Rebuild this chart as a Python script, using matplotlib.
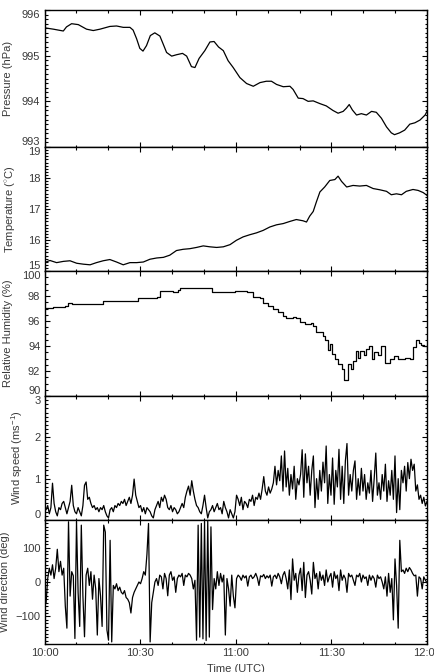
import numpy as np
import matplotlib
matplotlib.use('Agg')
import matplotlib.pyplot as plt
from matplotlib.ticker import MultipleLocator

plt.rcParams['font.family'] = ['Liberation Sans', 'DejaVu Sans']
plt.rcParams['mathtext.fontset'] = 'custom'
plt.rcParams['mathtext.rm'] = 'Liberation Sans'

# minutes after 10:00 UTC
time_ticks = [0, 30, 60, 90, 120]
time_labels = ['10:00', '10:30', '11:00', '11:30', '12:00']

# Pressure (hPa)
p_time = [0, 2.8, 5.9, 6.9, 8.5, 10.6, 13.2, 15.3, 17.4, 20.5,
          22.6, 24.7, 26.8, 27.8, 28.9, 29.9, 30.9, 32.0, 33.2, 34.6,
          36.2, 37.2, 38.3, 39.9, 41.4, 43.3, 44.6, 46.1, 47.2, 48.5,
          50.3, 51.9, 53.2, 54.6, 56.1, 57.6, 59.2, 61.3, 63.4, 65.5,
          67.6, 69.6, 71.2, 72.8, 74.9, 77.0, 78.0, 79.6, 81.1, 82.7,
          84.3, 86.4, 88.4, 90.5, 92.1, 93.7, 94.7, 95.6, 96.6, 97.9,
          99.4, 101.0, 102.6, 104.1, 105.7, 107.3, 108.8, 109.8, 111.4, 113.0,
          114.6, 116.2, 117.8, 119.4, 120]
pressure = [995.61, 995.58, 995.54, 995.63, 995.70, 995.68, 995.58, 995.55, 995.58, 995.64,
            995.65, 995.62, 995.62, 995.56, 995.37, 995.16, 995.10, 995.22, 995.44, 995.50,
            995.43, 995.26, 995.07, 994.99, 995.02, 995.05, 994.99, 994.76, 994.74, 994.94,
            995.11, 995.30, 995.31, 995.19, 995.11, 994.89, 994.74, 994.52, 994.39, 994.33,
            994.41, 994.44, 994.44, 994.37, 994.32, 994.33, 994.26, 994.07, 994.06, 994.00,
            994.01, 993.95, 993.90, 993.80, 993.74, 993.78, 993.85, 993.93, 993.81, 993.70,
            993.73, 993.70, 993.78, 993.76, 993.63, 993.44, 993.31, 993.27, 993.31, 993.37,
            993.50, 993.53, 993.59, 993.70, 993.78]

# Temperature (C)
t_time = [0, 1.7, 3.8, 5.9, 8.0, 10.1, 12.2, 14.3, 16.3, 18.4,
          20.5, 22.6, 24.7, 26.8, 28.9, 31.0, 33.1, 35.2, 37.3, 39.3,
          41.4, 43.5, 45.6, 47.7, 49.8, 51.9, 54.0, 56.1, 58.2, 60.2,
          62.3, 64.4, 66.5, 68.6, 70.7, 72.8, 74.9, 77.0, 79.0, 81.1,
          82.2, 83.2, 84.3, 85.3, 86.4, 87.9, 89.5, 91.1, 92.1, 93.2,
          94.8, 96.8, 98.9, 101.0, 103.1, 105.2, 107.3, 108.8, 110.4, 112.0,
          113.5, 115.6, 117.2, 118.8, 120]
temperature = [15.27, 15.34, 15.27, 15.31, 15.33, 15.25, 15.22, 15.20, 15.27, 15.33,
               15.37, 15.29, 15.20, 15.27, 15.27, 15.29, 15.38, 15.42, 15.44, 15.51,
               15.66, 15.70, 15.72, 15.76, 15.81, 15.78, 15.76, 15.78, 15.85, 15.99,
               16.10, 16.17, 16.23, 16.31, 16.42, 16.49, 16.53, 16.60, 16.66, 16.62,
               16.58, 16.77, 16.92, 17.23, 17.55, 17.71, 17.92, 17.95, 18.06, 17.89,
               17.71, 17.76, 17.74, 17.76, 17.66, 17.62, 17.57, 17.46, 17.49, 17.46,
               17.57, 17.63, 17.60, 17.53, 17.44]

# Relative humidity (%)
rh_time = [0, 2.8, 6.4, 7.5, 8.5, 17.4, 18.4, 28.9, 29.4, 34.1,
           35.2, 36.2, 39.9, 40.4, 41.9, 42.5, 52.1, 52.6, 59.2, 59.7,
           62.8, 63.4, 65.5, 67.6, 68.6, 70.2, 71.7, 73.3, 74.9, 75.9,
           78.0, 79.0, 80.1, 81.6, 83.7, 84.3, 85.3, 86.4, 87.4, 87.9,
           89.0, 89.5, 90.2, 91.1, 92.1, 93.2, 93.9, 94.7, 95.2, 96.0,
           96.8, 97.7, 98.4, 99.1, 100.2, 101.0, 101.8, 102.6, 103.3, 104.7,
           105.7, 106.7, 108.3, 109.8, 110.9, 111.9, 113.0, 114.6, 115.6, 116.7,
           117.5, 118.2, 119.0, 120]
humidity = [97.05, 97.14, 97.2, 97.46, 97.35, 97.35, 97.62, 97.62, 97.84, 97.84,
            97.95, 98.41, 98.41, 98.35, 98.46, 98.62, 98.62, 98.35, 98.35, 98.43,
            98.43, 98.3, 97.95, 97.81, 97.41, 97.22, 96.95, 96.73, 96.38, 96.24,
            96.32, 96.24, 95.92, 95.73, 95.84, 95.6, 95.16, 95.1, 94.84, 94.49,
            93.7, 94.16, 93.35, 92.95, 92.6, 92.14, 91.32, 91.27, 92.54, 92.14,
            92.81, 93.62, 93.08, 93.62, 93.27, 93.76, 93.97, 92.95, 93.49, 93.27,
            93.97, 92.68, 93.0, 93.22, 93.0, 92.95, 93.08, 92.95, 93.89, 94.51,
            94.24, 94.08, 93.97, 93.27]

# Wind speed (m/s), sampled every 30 s
wind_speed = [0.35, 0.25, 0.35, 0.15, 0.3, 0.89, 0.4, 0.2, 0.1, 0.3,
              0.25, 0.4, 0.45, 0.3, 0.15, 0.3, 0.45, 0.84, 0.35, 0.2,
              0.15, 0.3, 0.2, 0.1, 0.35, 0.84, 0.92, 0.5, 0.55, 0.4,
              0.3, 0.35, 0.25, 0.3, 0.2, 0.3, 0.25, 0.35, 0.2, 0.1,
              0.05, 0.25, 0.3, 0.2, 0.35, 0.3, 0.4, 0.35, 0.45, 0.4,
              0.5, 0.35, 0.45, 0.55, 0.4, 0.6, 0.99, 0.6, 0.45, 0.3,
              0.35, 0.2, 0.3, 0.15, 0.3, 0.25, 0.2, 0.1, 0.05, 0.25,
              0.35, 0.45, 0.3, 0.55, 0.45, 0.6, 0.5, 0.3, 0.25, 0.35,
              0.2, 0.3, 0.25, 0.15, 0.2, 0.3, 0.4, 0.3, 0.55, 0.7,
              0.82, 0.6, 0.95, 0.7, 0.5, 0.35, 0.3, 0.2, 0.15, 0.35,
              0.6, 0.3, 0.05, 0.2, 0.25, 0.35, 0.2, 0.3, 0.4, 0.25,
              0.3, 0.15, 0.45, 0.3, 0.2, 0.05, 0.25, 0.15, 0.05, 0.2,
              0.6, 0.5, 0.35, 0.55, 0.25, 0.45, 0.4, 0.3, 0.5, 0.45,
              0.6, 0.35, 0.55, 0.5, 0.65, 0.5, 0.75, 1.05, 0.7, 0.6,
              0.8, 0.65, 0.75, 0.9, 1.3, 0.85, 1.2, 0.95, 1.55, 0.7,
              1.67, 0.8, 1.25, 0.6, 1.1, 0.75, 1.3, 0.5, 1.0, 0.85,
              1.1, 1.7, 0.55, 1.6, 0.9, 1.3, 0.6, 1.2, 1.55, 0.3,
              1.0, 0.5, 1.2, 0.7, 1.4, 0.9, 1.79, 0.4, 1.1, 0.6,
              1.5, 0.38, 1.2, 0.8, 1.71, 0.5, 1.3, 0.4, 1.43, 1.85,
              0.6, 1.1, 0.7, 1.2, 1.43, 0.5, 1.0, 0.6, 1.25, 0.7,
              1.1, 0.5, 0.9, 0.65, 1.2, 0.45, 1.0, 1.62, 0.6, 0.9,
              0.5, 1.1, 0.7, 1.35, 0.45, 0.95, 0.6, 1.2, 0.5, 1.55,
              0.18, 1.0, 0.25, 1.2, 0.9, 1.3, 0.7, 1.39, 1.0, 1.47,
              1.2, 1.35, 0.7, 0.85, 0.5, 0.6, 0.4, 0.55, 0.34, 0.45]

# Wind direction (deg), sampled every 30 s
wind_dir = [-30, -60, 10, 40, 20, 50, 10, 40, 95, 30,
            60, 20, 40, -70, -134, 175, -41, 30, 18, -164,
            175, -31, -129, 165, -41, -159, 20, 40, -10, 30,
            -50, 20, -20, -154, 10, -40, -129, 165, 145, -139,
            -169, 121, -174, -10, -20, -5, -25, -15, -30, -35,
            -25, -45, -50, -60, -90, -45, -30, -20, -10, 0,
            -5, 10, 30, 20, 80, 170, -174, -60, -31, 0,
            10, -10, 20, 15, -20, 25, 10, -40, 20, 30,
            5, 15, -30, 10, 20, 15, 25, -10, 20, 15,
            25, 20, 10, -20, 5, -169, 165, -160, 170, -165,
            175, -170, 178, -160, 160, -80, 10, -20, 30, -10,
            25, 0, 20, -154, 10, -20, -70, 20, -41, -75,
            10, 20, 15, 5, 20, 12, 18, -12, 15, 20,
            10, 15, 25, 12, -10, 18, 15, 22, 10, 18,
            12, 20, -12, 15, 20, 10, 25, 15, -5, 20,
            30, 10, -20, 35, -51, 67, 5, 25, -30, 20,
            40, -25, 57, -45, 20, 30, 5, -35, 57, 10,
            25, -20, 30, 5, 20, -10, 35, 0, 15, 25,
            -15, 30, 10, 20, -25, 35, 5, 20, 10, -30,
            25, 15, 20, 5, -10, 20, 15, 25, 0, 20,
            10, 15, -10, 20, 5, 18, 10, -15, 20, 10,
            15, 0, -20, 15, -41, 25, -30, 10, -110, 67,
            -10, -134, 121, 30, 35, 25, 40, 30, 42, 35,
            25, 18, 20, -41, 15, 10, -20, 15, 5, -2]

ws_time = np.linspace(0, 120, len(wind_speed))
wd_time = np.linspace(0, 120, len(wind_dir))

txt_color = '#3a3a3a'
W, H = 434.0, 672.0
left = 44.5 / W
width = (427.0 - 44.5) / W
# panel edges in pixels from the top
edges = [10, 147, 271, 396, 520, 644]

panels = [
    (p_time, pressure, 'Pressure (hPa)', (993, 996), [993, 994, 995, 996], 0.1, 'default', -0.082),
    (t_time, temperature, 'Temperature ($^{\\circ}$C)', (15, 19), [15, 16, 17, 18, 19], 0.1, 'default', -0.072),
    (rh_time, humidity, 'Relative Humidity (%)', (90, 100), [90, 92, 94, 96, 98, 100], 0.5, 'steps-post', -0.082),
    (ws_time, wind_speed, 'Wind speed (ms$^{-1}$)', (0, 3), [0, 1, 2, 3], 0.1, 'default', -0.05),
    (wd_time, wind_dir, 'Wind direction (deg)', (-180, 180), [-100, 0, 100], 10, 'default', -0.09),
]

fig = plt.figure(figsize=(W / 100, H / 100), dpi=100)

for i, (x, y, label, ylim, yticks, yminor, dstyle, labx) in enumerate(panels):
    top = 1 - edges[i] / H
    bottom = 1 - edges[i + 1] / H
    ax = fig.add_axes([left, bottom, width, top - bottom])
    ax.plot(x, y, color='black', lw=0.9, drawstyle=dstyle)
    ax.set_xlim(0, 120)
    ax.set_ylim(*ylim)
    ax.set_yticks(yticks)
    ax.yaxis.set_minor_locator(MultipleLocator(yminor))
    ax.set_xticks(time_ticks)
    ax.xaxis.set_minor_locator(MultipleLocator(10))
    if i == len(panels) - 1:
        ax.set_xticklabels(time_labels)
        ax.set_xlabel('Time (UTC)', fontsize=8, color=txt_color, labelpad=4)
    else:
        ax.set_xticklabels([])
    ax.tick_params(which='both', direction='in', top=True, right=True,
                   labelsize=8, labelcolor=txt_color, width=0.8, pad=3)
    ax.tick_params(which='major', length=3.6)
    ax.tick_params(which='minor', length=1.8)
    for s in ax.spines.values():
        s.set_linewidth(1.0)
    # keep the end labels inside the panel, as in the original
    yt = ax.yaxis.get_major_ticks()
    if yticks[0] == ylim[0]:
        yt[0].label1.set_va('bottom')
    if yticks[-1] == ylim[1]:
        yt[-1].label1.set_va('top')
    ax.set_ylabel(label, fontsize=8, color=txt_color)
    ax.yaxis.set_label_coords(labx, 0.5)

fig.savefig('out.png', dpi=100)
